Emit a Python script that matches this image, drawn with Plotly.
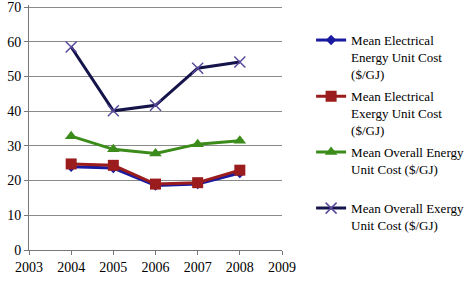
import plotly.graph_objects as go

years = [2004, 2005, 2006, 2007, 2008]
elec_energy = [24.0, 23.6, 18.6, 19.0, 22.2]
elec_exergy = [24.8, 24.4, 19.0, 19.4, 23.0]
overall_energy = [32.8, 29.0, 27.8, 30.5, 31.5]
overall_exergy = [58.5, 40.1, 41.7, 52.4, 54.2]

names = [
    "Mean Electrical<br>Energy Unit Cost<br>($/GJ)",
    "Mean Electrical<br>Exergy Unit Cost<br>($/GJ)",
    "Mean Overall Energy<br>Unit Cost ($/GJ)",
    "Mean Overall Exergy<br>Unit Cost ($/GJ)",
]

SERIF = "Liberation Serif"

fig = go.Figure()
fig.add_trace(go.Scatter(x=years, y=elec_energy, name=names[0], mode="lines+markers",
                         legend="legend",
                         line=dict(color="#1a1aa0", width=3),
                         marker=dict(symbol="diamond", size=8, color="#1a1aa0")))
fig.add_trace(go.Scatter(x=years, y=elec_exergy, name=names[1], mode="lines+markers",
                         legend="legend2",
                         line=dict(color="#9a1c1c", width=3),
                         marker=dict(symbol="square", size=11, color="#9a1c1c")))
fig.add_trace(go.Scatter(x=years, y=overall_energy, name=names[2], mode="lines+markers",
                         legend="legend3",
                         line=dict(color="#3c8c1c", width=3),
                         marker=dict(symbol="triangle-up", size=11, color="#3c8c1c")))
fig.add_trace(go.Scatter(x=years, y=overall_exergy, name=names[3], mode="lines+markers",
                         legend="legend4",
                         line=dict(color="#14144a", width=3),
                         marker=dict(symbol="x-thin", size=11,
                                     line=dict(color="#5a4a9a", width=1.5))))

def leg(y):
    return dict(x=1.115, y=y, xanchor="left", yanchor="top", valign="top",
                font=dict(family=SERIF, size=13, color="black"), itemwidth=30,
                bgcolor="rgba(0,0,0,0)")

fig.update_layout(
    width=464, height=282,
    margin=dict(l=29, r=182, t=5, b=32, autoexpand=False),
    paper_bgcolor="white", plot_bgcolor="white",
    font=dict(family=SERIF, size=14, color="black"),
    showlegend=True,
    legend=leg(0.918), legend2=leg(0.689), legend3=leg(0.461), legend4=leg(0.232),
    xaxis=dict(range=[2003, 2009], tickmode="linear", dtick=1, tick0=2003,
               showgrid=False, showline=True, linecolor="#777777", linewidth=1,
               ticks="outside", ticklen=4, tickcolor="#777777", zeroline=False,
               tickfont=dict(family=SERIF, size=14)),
    yaxis=dict(range=[0, 70.6], tickmode="linear", dtick=10, tick0=0,
               showgrid=True, gridcolor="#8a8a8a", gridwidth=1,
               showline=True, linecolor="#777777", linewidth=1,
               ticks="outside", ticklen=4, tickcolor="#777777", zeroline=False,
               ticklabeloverflow="allow",
               tickfont=dict(family=SERIF, size=14)),
)

post = """
document.body.style.margin='0';
var gd = document.getElementById('{plot_id}');
function rd(){ try { Plotly.newPlot(gd, gd.data, gd.layout, {displayModeBar: false}); } catch(e) {} }
if (document.fonts && document.fonts.ready) { document.fonts.ready.then(rd); }
setTimeout(rd, 100);
"""

fig.write_html("out.html", config={"displayModeBar": False}, post_script=post)
